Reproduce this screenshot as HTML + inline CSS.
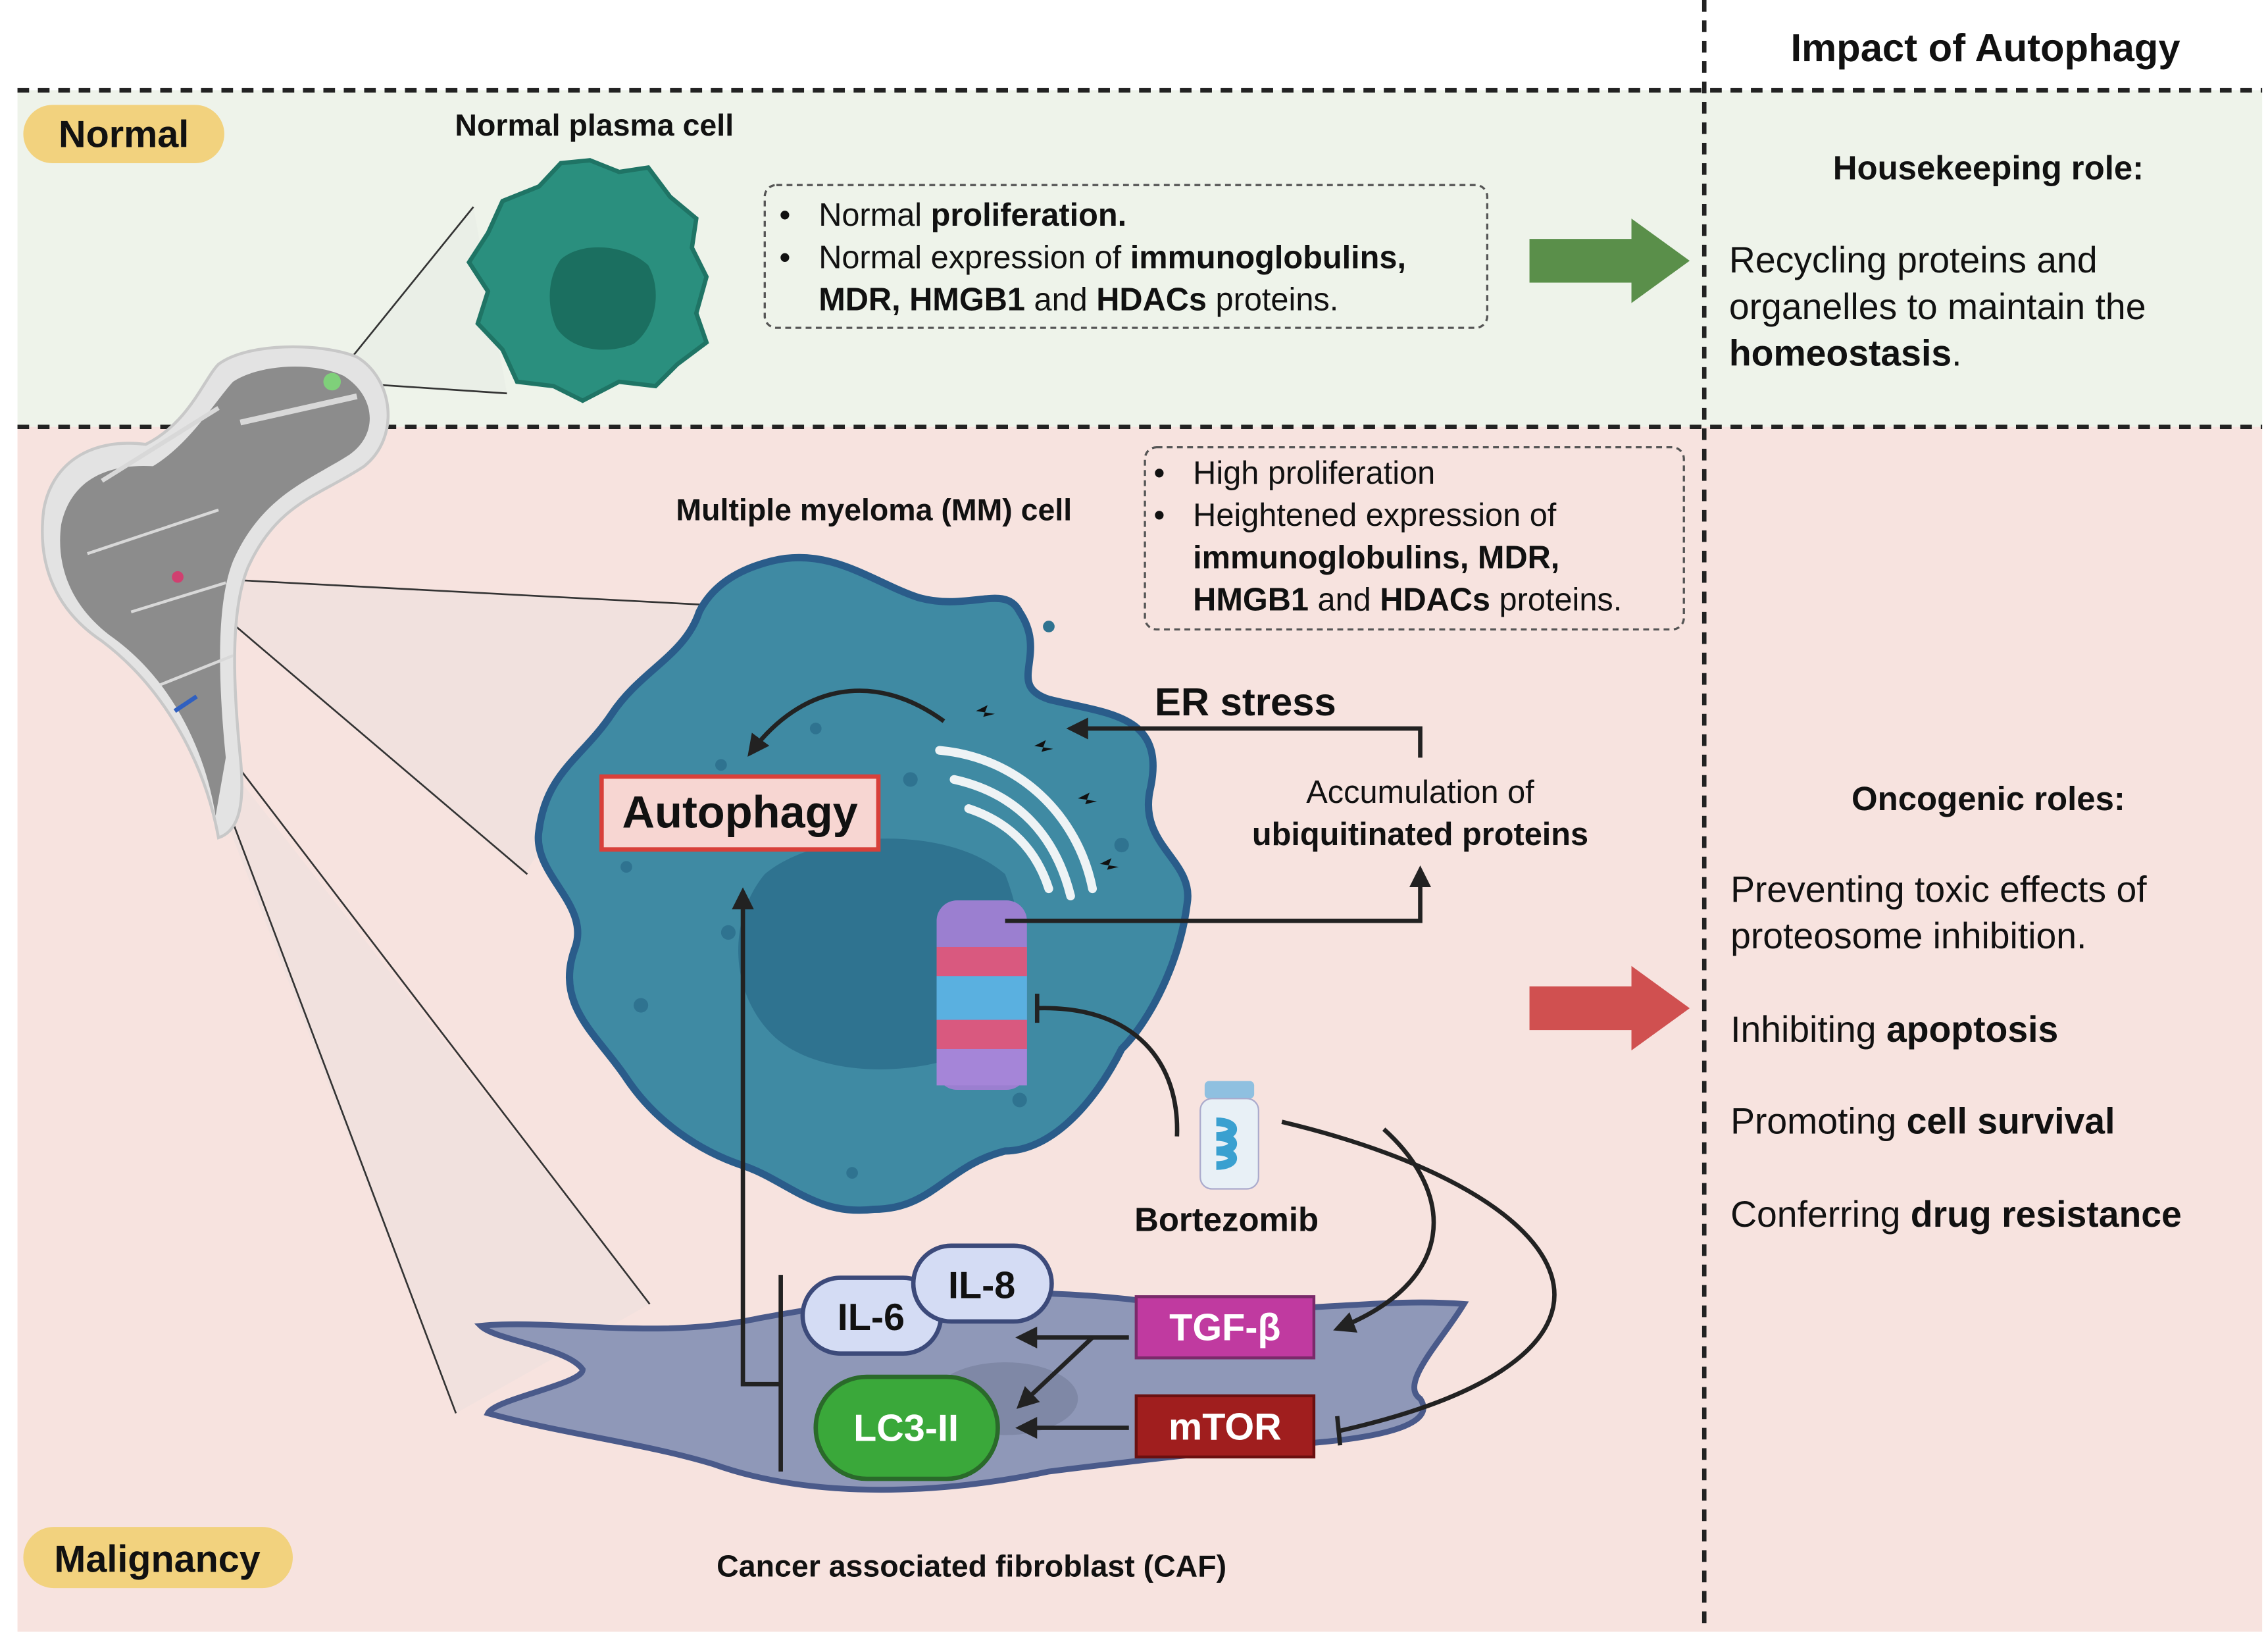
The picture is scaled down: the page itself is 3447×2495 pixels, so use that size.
<!DOCTYPE html>
<html><head><meta charset="utf-8"><style>
html,body{margin:0;padding:0;background:#fff;}
svg{display:block;}
text{font-family:"Liberation Sans",sans-serif;}
</style></head><body>
<svg width="3447" height="2495" viewBox="0 0 1557 1127" preserveAspectRatio="none" xmlns="http://www.w3.org/2000/svg">
<defs>
<marker id="ah" viewBox="0 0 10 10" refX="8" refY="5" markerWidth="5" markerHeight="5" orient="auto"><path d="M0,0 L10,5 L0,10 z" fill="#222"/></marker>
</defs>
<rect x="0" y="0" width="1557" height="1127" fill="#fff"/>
<rect x="12" y="62" width="1541" height="231" fill="#eef3ea"/>
<rect x="12" y="293" width="1541" height="827" fill="#f7e3df"/>
<line x1="12" y1="62" x2="1553" y2="62" stroke="#222" stroke-width="3" stroke-dasharray="8,6"/>
<line x1="12" y1="293" x2="1553" y2="293" stroke="#222" stroke-width="3" stroke-dasharray="8,6"/>
<line x1="1170" y1="0" x2="1170" y2="1115" stroke="#222" stroke-width="3" stroke-dasharray="8,6"/>

<text x="1363" y="42" font-size="27" font-weight="bold" text-anchor="middle" fill="#111">Impact of Autophagy</text>

<rect x="16" y="72" width="138" height="40" rx="20" fill="#f2d27e"/>
<text x="85" y="101" font-size="26" font-weight="bold" text-anchor="middle" fill="#111">Normal</text>
<rect x="16" y="1048" width="185" height="42" rx="21" fill="#f2d27e"/>
<text x="108" y="1079" font-size="26" font-weight="bold" text-anchor="middle" fill="#111">Malignancy</text>

<!-- zoom cones -->
<polygon points="228,262 325,142 348,270" fill="#e8ece6" opacity="0.7"/>
<line x1="228" y1="262" x2="325" y2="142" stroke="#333" stroke-width="1.2"/>
<line x1="228" y1="262" x2="348" y2="270" stroke="#333" stroke-width="1.2"/>
<polygon points="122,396 482,415 360,600" fill="#ece0de" opacity="0.6"/>
<line x1="122" y1="396" x2="482" y2="415" stroke="#333" stroke-width="1.2"/>
<line x1="122" y1="396" x2="362" y2="600" stroke="#333" stroke-width="1.2"/>
<polygon points="125,485 446,895 313,970" fill="#ece0de" opacity="0.6"/>
<line x1="128" y1="480" x2="446" y2="895" stroke="#333" stroke-width="1.2"/>
<line x1="128" y1="480" x2="313" y2="970" stroke="#333" stroke-width="1.2"/>

<!-- bone -->
<path d="M150,575 C140,520 110,470 70,440 C40,420 25,390 30,350 C35,320 60,300 100,305 C130,290 140,260 150,250 C170,235 220,235 245,245 C270,260 275,300 250,320 C220,340 190,345 170,390 C158,420 160,470 165,520 C168,550 165,570 150,575 Z" fill="#e3e3e3" stroke="#c8c8c8" stroke-width="2"/>
<path d="M148,560 C140,510 115,465 78,438 C50,418 38,390 42,360 C48,332 70,318 105,320 C130,305 148,275 160,262 C178,250 215,248 236,258 C258,272 260,298 240,312 C212,330 180,340 160,385 C148,415 150,470 155,520 Z" fill="#8c8c8c"/>
<path d="M165,290 L245,272" stroke="#d8d8d8" stroke-width="4"/>
<path d="M70,330 L150,280" stroke="#d8d8d8" stroke-width="3"/>
<path d="M60,380 L150,350" stroke="#d8d8d8" stroke-width="2"/>
<path d="M90,420 L155,400" stroke="#d8d8d8" stroke-width="2"/>
<path d="M110,470 L160,450" stroke="#d8d8d8" stroke-width="2"/>
<circle cx="228" cy="262" r="6" fill="#7fd07a"/>
<circle cx="122" cy="396" r="4" fill="#d04070"/>
<line x1="120" y1="488" x2="135" y2="478" stroke="#3060c0" stroke-width="3"/>

<!-- normal cell -->
<text x="408" y="93" font-size="21" font-weight="bold" text-anchor="middle" fill="#111">Normal plasma cell</text>
<path d="M405,110 L425,118 L445,115 L460,135 L478,150 L475,170 L485,190 L478,215 L485,235 L465,250 L450,265 L425,262 L400,275 L380,265 L355,262 L345,240 L328,222 L335,200 L322,180 L335,160 L345,138 L370,128 L385,112 Z" fill="#2a8f7e" stroke="#1f7465" stroke-width="3"/>
<path d="M385,178 C400,165 430,168 445,182 C455,200 450,225 435,236 C415,244 392,240 382,225 C375,210 376,190 385,178 Z" fill="#1b6f60"/>

<rect x="525" y="127" width="496" height="98" rx="8" fill="none" stroke="#555" stroke-width="1.5" stroke-dasharray="4,3"/>
<text font-size="22" fill="#111"><tspan x="535" y="155">•</tspan><tspan x="562" y="155">Normal </tspan><tspan font-weight="bold">proliferation.</tspan></text>
<text font-size="22" fill="#111"><tspan x="535" y="184">•</tspan><tspan x="562" y="184">Normal expression of </tspan><tspan font-weight="bold">immunoglobulins,</tspan></text>
<text font-size="22" fill="#111" x="562" y="213"><tspan font-weight="bold">MDR, HMGB1</tspan> and <tspan font-weight="bold">HDACs</tspan> proteins.</text>

<polygon points="1050,164 1120,164 1120,150 1160,179 1120,208 1120,194 1050,194" fill="#5a8f4a"/>
<text x="1365" y="123" font-size="23" font-weight="bold" text-anchor="middle" fill="#111">Housekeeping role:</text>
<text x="1187" y="187" font-size="25" fill="#111">Recycling proteins and</text>
<text x="1187" y="219" font-size="25" fill="#111">organelles to maintain the</text>
<text x="1187" y="251" font-size="25" fill="#111"><tspan font-weight="bold">homeostasis</tspan>.</text>

<!-- MM cell -->
<text x="600" y="357" font-size="21" font-weight="bold" text-anchor="middle" fill="#111">Multiple myeloma (MM) cell</text>
<path d="M530,385 C570,375 600,400 630,410 C665,420 690,400 700,420 C720,450 690,470 720,480 C760,490 800,490 790,540 C780,580 820,590 815,620 C810,660 790,700 770,720 C750,760 720,790 690,790 C650,800 640,830 600,830 C560,835 540,810 510,800 C480,790 450,770 430,740 C410,710 380,690 395,650 C405,620 365,600 370,570 C375,530 400,520 420,490 C440,460 470,450 480,420 C490,400 510,390 530,385 Z" fill="#3f8aa3" stroke="#2a5c8a" stroke-width="5"/>
<path d="M525,600 C560,570 650,565 690,600 C710,650 700,700 670,720 C630,740 560,740 530,710 C500,680 500,630 525,600 Z" fill="#2f7390"/>
<g fill="#2f7390"><circle cx="455" cy="560" r="5"/><circle cx="430" cy="595" r="4"/><circle cx="500" cy="640" r="5"/><circle cx="440" cy="690" r="5"/><circle cx="560" cy="500" r="4"/><circle cx="625" cy="535" r="5"/><circle cx="770" cy="580" r="5"/><circle cx="720" cy="430" r="4"/><circle cx="700" cy="755" r="5"/><circle cx="585" cy="805" r="4"/><circle cx="495" cy="525" r="4"/></g>
<!-- ER -->
<g fill="none" stroke="#eef3f5" stroke-width="6" stroke-linecap="round">
<path d="M645,515 C700,520 740,560 750,610"/>
<path d="M655,535 C700,545 725,575 735,615"/>
<path d="M665,555 C695,565 712,585 720,610"/>
</g>
<g fill="#111"><path d="M670,488 l8,-4 -3,8 8,-2 z"/><path d="M710,512 l8,-4 -3,8 8,-2 z"/><path d="M740,548 l8,-4 -3,8 8,-2 z"/><path d="M755,593 l8,-4 -3,8 8,-2 z"/></g>
<!-- proteasome -->
<g>
<rect x="643" y="618" width="62" height="130" rx="14" fill="#9b7fd0"/>
<rect x="643" y="650" width="62" height="20" fill="#d9597f"/>
<rect x="643" y="670" width="62" height="30" fill="#5ab0e0"/>
<rect x="643" y="700" width="62" height="20" fill="#d9597f"/>
<rect x="643" y="720" width="62" height="25" fill="#a585d8"/>
</g>
<path d="M648,495 C600,460 550,470 515,517" fill="none" stroke="#222" stroke-width="3" marker-end="url(#ah)"/>
<rect x="413" y="533" width="190" height="50" fill="#f7d6d2" stroke="#d8403a" stroke-width="3"/>
<text x="508" y="568" font-size="31" font-weight="bold" text-anchor="middle" fill="#111">Autophagy</text>
<text x="855" y="491" font-size="27" font-weight="bold" text-anchor="middle" fill="#111">ER stress</text>
<path d="M975,520 L975,500 L735,500" fill="none" stroke="#222" stroke-width="3" marker-end="url(#ah)"/>
<text x="975" y="551" font-size="22" text-anchor="middle" fill="#111">Accumulation of</text>
<text x="975" y="580" font-size="22" font-weight="bold" text-anchor="middle" fill="#111">ubiquitinated proteins</text>
<path d="M690,632 L975,632 L975,597" fill="none" stroke="#222" stroke-width="3" marker-end="url(#ah)"/>
<path d="M808,780 C810,730 780,690 712,692" fill="none" stroke="#222" stroke-width="3"/>
<line x1="712" y1="682" x2="712" y2="702" stroke="#222" stroke-width="3"/>

<rect x="786" y="307" width="370" height="125" rx="8" fill="none" stroke="#555" stroke-width="1.5" stroke-dasharray="4,3"/>
<text font-size="22" fill="#111"><tspan x="792" y="332">•</tspan><tspan x="819" y="332">High proliferation</tspan></text>
<text font-size="22" fill="#111"><tspan x="792" y="361">•</tspan><tspan x="819" y="361">Heightened expression of</tspan></text>
<text font-size="22" fill="#111" x="819" y="390" font-weight="bold">immunoglobulins, MDR,</text>
<text font-size="22" fill="#111" x="819" y="419"><tspan font-weight="bold">HMGB1</tspan> and <tspan font-weight="bold">HDACs</tspan> proteins.</text>

<!-- bortezomib -->
<rect x="827" y="742" width="34" height="12" rx="3" fill="#8fc0e0"/>
<rect x="824" y="754" width="40" height="62" rx="8" fill="#e8f0f6" stroke="#aac" stroke-width="1"/>
<path d="M835,770 c15,0 15,10 0,10 c15,0 15,10 0,10 c15,0 15,10 0,10" fill="none" stroke="#3aa0d0" stroke-width="6"/>
<text x="842" y="845" font-size="23" font-weight="bold" text-anchor="middle" fill="#111">Bortezomib</text>

<!-- CAF -->
<path d="M330,910 C380,905 450,920 520,905 C600,890 700,880 800,895 C880,905 940,890 1005,895 C990,920 960,950 975,960 C985,975 960,985 905,990 C850,995 800,1000 720,1010 C650,1025 560,1030 490,1005 C440,990 390,985 335,970 C340,960 400,950 400,940 C390,925 340,920 330,910 Z" fill="#8f98b8" stroke="#4a5a8a" stroke-width="4"/>
<ellipse cx="690" cy="960" rx="50" ry="25" fill="#7f88a6"/>
<path d="M950,775 C1000,820 1000,880 918,912" fill="none" stroke="#222" stroke-width="3" marker-end="url(#ah)"/>
<path d="M880,770 C1090,820 1150,930 920,982" fill="none" stroke="#222" stroke-width="3"/>
<line x1="918" y1="972" x2="920" y2="992" stroke="#222" stroke-width="3"/>
<rect x="551" y="877" width="95" height="52" rx="26" fill="#d4dcf4" stroke="#3c4a7a" stroke-width="3"/>
<text x="598" y="913" font-size="26" font-weight="bold" text-anchor="middle" fill="#111">IL-6</text>
<rect x="627" y="855" width="95" height="52" rx="26" fill="#d4dcf4" stroke="#3c4a7a" stroke-width="3"/>
<text x="674" y="891" font-size="26" font-weight="bold" text-anchor="middle" fill="#111">IL-8</text>
<rect x="560" y="945" width="125" height="70" rx="35" fill="#3aa83a" stroke="#2a6a2a" stroke-width="3"/>
<text x="622" y="989" font-size="26" font-weight="bold" text-anchor="middle" fill="#fff">LC3-II</text>
<rect x="780" y="890" width="122" height="42" fill="#c03aa0" stroke="#7a2a6a" stroke-width="2"/>
<text x="841" y="920" font-size="26" font-weight="bold" text-anchor="middle" fill="#fff">TGF-β</text>
<rect x="780" y="958" width="122" height="42" fill="#a01e1e" stroke="#6a1010" stroke-width="2"/>
<text x="841" y="988" font-size="26" font-weight="bold" text-anchor="middle" fill="#fff">mTOR</text>
<line x1="775" y1="918" x2="700" y2="918" stroke="#222" stroke-width="3" marker-end="url(#ah)"/>
<line x1="750" y1="918" x2="700" y2="965" stroke="#222" stroke-width="3" marker-end="url(#ah)"/>
<line x1="775" y1="980" x2="700" y2="980" stroke="#222" stroke-width="3" marker-end="url(#ah)"/>
<path d="M536,950 L510,950 L510,612" fill="none" stroke="#222" stroke-width="3" marker-end="url(#ah)"/>
<line x1="536" y1="875" x2="536" y2="1010" stroke="#222" stroke-width="3"/>
<text x="667" y="1082" font-size="21" font-weight="bold" text-anchor="middle" fill="#111">Cancer associated fibroblast (CAF)</text>

<polygon points="1050,677 1120,677 1120,663 1160,692 1120,721 1120,707 1050,707" fill="#d05050"/>
<text x="1365" y="556" font-size="23" font-weight="bold" text-anchor="middle" fill="#111">Oncogenic roles:</text>
<text x="1188" y="619" font-size="25" fill="#111">Preventing toxic effects of</text>
<text x="1188" y="651" font-size="25" fill="#111">proteosome inhibition.</text>
<text x="1188" y="715" font-size="25" fill="#111">Inhibiting <tspan font-weight="bold">apoptosis</tspan></text>
<text x="1188" y="778" font-size="25" fill="#111">Promoting <tspan font-weight="bold">cell survival</tspan></text>
<text x="1188" y="842" font-size="25" fill="#111">Conferring <tspan font-weight="bold">drug resistance</tspan></text>
</svg>
</body></html>
